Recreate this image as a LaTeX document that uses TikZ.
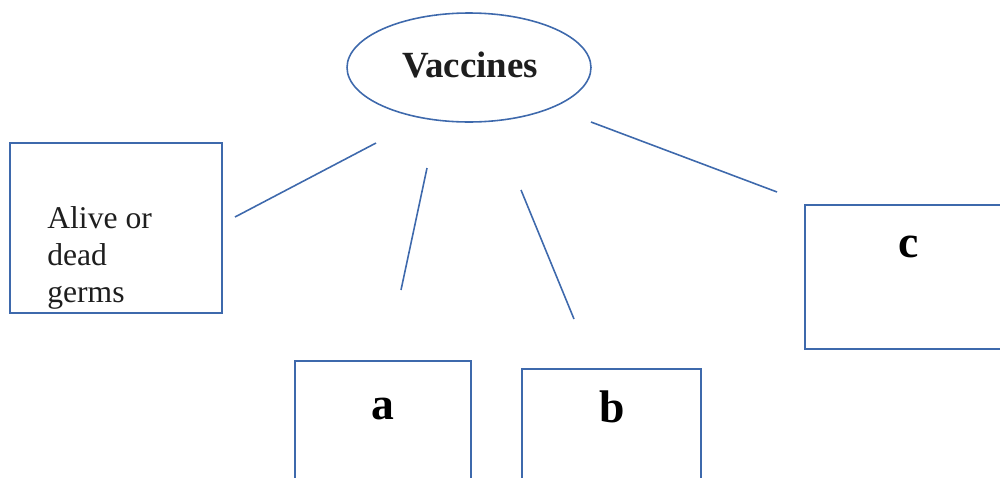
\documentclass[tikz,border=0pt]{standalone}
\usepackage{fontspec}
\setmainfont{Liberation Serif}
\usetikzlibrary{shapes.geometric}
\definecolor{boxblue}{RGB}{62,105,172}
\definecolor{inktext}{RGB}{30,30,30}
\begin{document}
\begin{tikzpicture}[x=0.02cm,y=-0.02cm,
    box/.style={draw=boxblue,line width=0.9pt,inner sep=0pt},
    link/.style={draw=boxblue,line width=0.9pt},
    lbl/.style={inner sep=0pt,text=black,font=\bfseries\fontsize{26}{30}\selectfont}]
    \clip (0,0) rectangle (1000,477);

    \begin{scope}
      \node[box,ellipse,minimum width=4.88cm,minimum height=2.18cm] (V)     at (469,67.5) {};
      \node[box,minimum width=4.24cm,minimum height=3.4cm]           (germs) at (116,228) {};
      \node[box,minimum width=3.52cm,minimum height=2.78cm]          (a)     at (383,430.5) {};
      \node[box,minimum width=3.58cm,minimum height=2.62cm]          (b)     at (611.5,434.5) {};
      \node[box,minimum width=4.3cm,minimum height=2.88cm]           (c)     at (912.5,277) {};
    \end{scope}

    \node[lbl,text=inktext,font=\bfseries\fontsize{21}{24}\selectfont,anchor=base] (Vt) at (470,77) {Vaccines};
    \node[inner sep=0pt,text=inktext,align=left,anchor=base west,
          font=\fontsize{18}{21}\selectfont] (germst) at (47,302) {Alive or\\dead\\germs};
    \node[lbl,anchor=base] (at) at (383,419) {a};
    \node[lbl,anchor=base] (bt) at (612,422) {b};
    \node[lbl,anchor=base] (ct) at (909,257) {c};

    % free-standing connectors
    \coordinate (v1) at (376,143); \coordinate (g1) at (235,217);
    \coordinate (v2) at (427,168); \coordinate (a1) at (401,290);
    \coordinate (v3) at (521,190); \coordinate (b1) at (574,319);
    \coordinate (v4) at (591,122); \coordinate (c1) at (777,192);

    \draw[link] (v1) -- (g1);
    \draw[link] (v2) -- (a1);
    \draw[link] (v3) -- (b1);
    \draw[link] (v4) -- (c1);
\end{tikzpicture}
\end{document}
